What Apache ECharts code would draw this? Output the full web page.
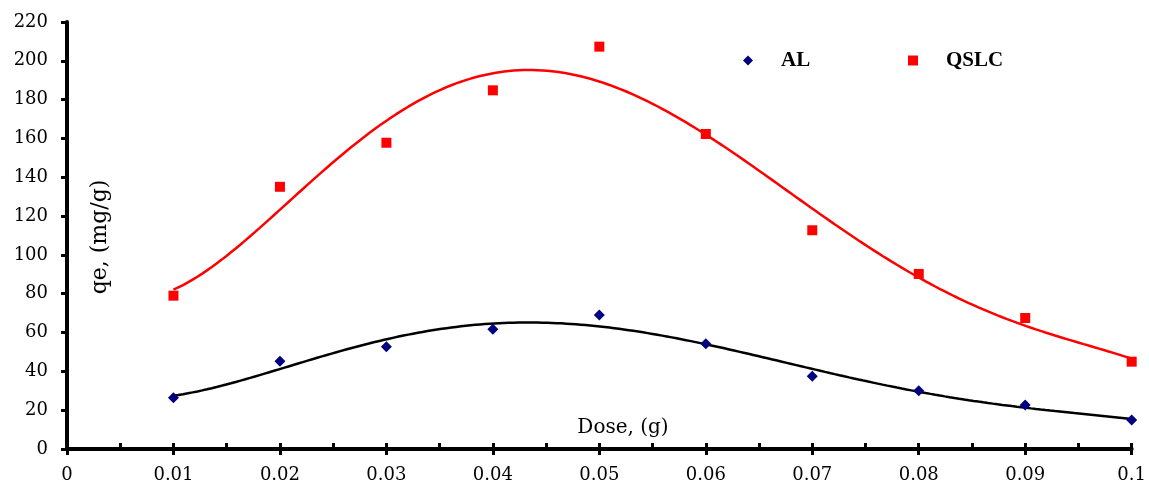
<!DOCTYPE html>
<html>
<head>
<meta charset="utf-8">
<style>
  html, body { margin: 0; padding: 0; background: #fff; }
  #chart { width: 1149px; height: 486px; }
</style>
<script src="https://cdn.jsdelivr.net/npm/echarts@6/dist/echarts.min.js"></script>
</head>
<body>
<div id="chart"></div>
<script>
// Adsorbent dose (g)
const doses = [0.01, 0.02, 0.03, 0.04, 0.05, 0.06, 0.07, 0.08, 0.09, 0.1];
// Adsorption capacity qe (mg/g)
const alQe = [26.4, 45.2, 52.7, 61.7, 69.1, 54.2, 37.5, 30.0, 22.7, 14.9];
const qslcQe = [79.0, 135.1, 157.8, 184.8, 207.3, 162.3, 112.7, 90.2, 67.5, 45.0];

const seriesNames = ['AL', 'QSLC'];
const TREND_DEGREE = 5;

// Least-squares polynomial trendline (x rescaled to keep the system well conditioned)
function polyFit(xs, ys, deg) {
  const n = deg + 1;
  const A = [];
  for (let i = 0; i < n; i++) A.push(new Array(n + 1).fill(0));
  xs.forEach((x0, k) => {
    const x = x0 * 100;
    for (let i = 0; i < n; i++) {
      for (let j = 0; j < n; j++) A[i][j] += Math.pow(x, i + j);
      A[i][n] += ys[k] * Math.pow(x, i);
    }
  });
  for (let c = 0; c < n; c++) {
    let p = c;
    for (let r = c + 1; r < n; r++) if (Math.abs(A[r][c]) > Math.abs(A[p][c])) p = r;
    [A[c], A[p]] = [A[p], A[c]];
    for (let r = 0; r < n; r++) {
      if (r === c) continue;
      const f = A[r][c] / A[c][c];
      for (let k = c; k <= n; k++) A[r][k] -= f * A[c][k];
    }
  }
  const coef = A.map((row, i) => row[n] / row[i]);
  return x0 => {
    const x = x0 * 100;
    return coef.reduce((s, a, i) => s + a * Math.pow(x, i), 0);
  };
}

function trendPoints(xs, ys) {
  const f = polyFit(xs, ys, TREND_DEGREE);
  const lo = xs[0], hi = xs[xs.length - 1];
  const pts = [];
  const steps = 200;
  for (let i = 0; i <= steps; i++) {
    const x = lo + (hi - lo) * i / steps;
    pts.push([x, f(x)]);
  }
  return pts;
}

const pairs = ys => doses.map((d, i) => [d, ys[i]]);

const chart = echarts.init(document.getElementById('chart'), null, { renderer: 'canvas' });

const tickFont = { fontFamily: 'DejaVu Serif', fontSize: 18, color: '#000' };
const legendText = {
  fontFamily: 'Liberation Serif', fontWeight: 'bold', fontSize: 21, color: '#000',
  padding: [0, 0, 0, 23]
};

chart.setOption({
  backgroundColor: '#fff',
  animation: false,
  grid: { left: 67, right: 16, top: 22, bottom: 37, containLabel: false },
  legend: [
    {
      data: [seriesNames[0]], left: 743, top: 50, padding: 0,
      itemWidth: 10, itemHeight: 10, textStyle: legendText
    },
    {
      data: [seriesNames[1]], left: 908, top: 50, padding: 0,
      itemWidth: 10, itemHeight: 10, textStyle: legendText
    }
  ],
  xAxis: [
    {
      type: 'value', position: 'bottom',
      min: 0, max: 0.1, interval: 0.01,
      axisLine: { show: true, onZero: false, lineStyle: { color: '#000', width: 4 } },
      axisTick: { show: true, inside: false, length: 6, lineStyle: { color: '#000', width: 3 } },
      axisLabel: Object.assign({ margin: 17 }, tickFont),
      splitLine: { show: false }
    },
    {
      type: 'value', position: 'bottom',
      min: 0, max: 0.1, interval: 0.01,
      axisLine: { show: false, onZero: false },
      axisTick: { show: true, inside: true, length: 6, lineStyle: { color: '#000', width: 3 } },
      minorTick: { show: true, splitNumber: 2, length: 6, lineStyle: { color: '#000', width: 3 } },
      axisLabel: { show: false },
      splitLine: { show: false }
    }
  ],
  yAxis: {
    type: 'value',
    min: 0, max: 220, interval: 20,
    axisLine: { show: true, onZero: false, lineStyle: { color: '#000', width: 4 } },
    axisTick: { show: true, inside: false, length: 6, lineStyle: { color: '#000', width: 3 } },
    axisLabel: Object.assign({ margin: 19 }, tickFont),
    splitLine: { show: false }
  },
  graphic: [
    {
      type: 'text', x: 623, y: 428,
      style: { text: 'Dose, (g)', fontFamily: 'DejaVu Serif', fontSize: 20, fill: '#000',
               textAlign: 'center', textVerticalAlign: 'middle' }
    },
    {
      type: 'text', x: 100, y: 237, rotation: Math.PI / 2,
      style: { text: 'qe, (mg/g)', fontFamily: 'DejaVu Serif', fontSize: 22, fill: '#000',
               textAlign: 'center', textVerticalAlign: 'middle' }
    }
  ],
  series: [
    {
      name: 'AL trend', type: 'line', data: trendPoints(doses, alQe),
      showSymbol: false, silent: true, z: 2,
      lineStyle: { color: '#000', width: 2.5 }
    },
    {
      name: 'QSLC trend', type: 'line', data: trendPoints(doses, qslcQe),
      showSymbol: false, silent: true, z: 2,
      lineStyle: { color: '#ff0000', width: 2.5 }
    },
    {
      name: 'AL', type: 'scatter', data: pairs(alQe), z: 3,
      symbol: 'diamond', symbolSize: 11,
      itemStyle: { color: '#000080', opacity: 1 }
    },
    {
      name: 'QSLC', type: 'scatter', data: pairs(qslcQe), z: 3,
      symbol: 'rect', symbolSize: 10,
      itemStyle: { color: '#ff0000', opacity: 1 }
    }
  ]
});
</script>
</body>
</html>
